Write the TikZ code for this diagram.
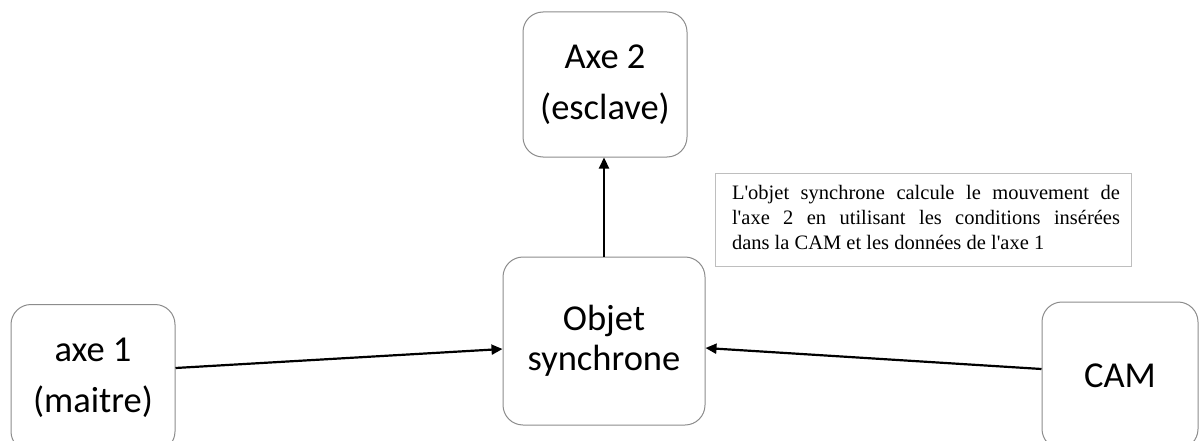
\documentclass[tikz,border=0pt]{standalone}
\usepackage{fontspec}
\setmainfont{Liberation Serif}
\newfontfamily\notefont{Liberation Serif}[Ligatures=TeXOff]
\newfontfamily\labelfont{Carlito}
\usetikzlibrary{arrows.meta,calc}

\definecolor{boxline}{RGB}{140,140,140}
\definecolor{noteline}{RGB}{190,190,190}

\tikzset{
  block/.style={draw=boxline, line width=1pt, rounded corners=20pt, fill=white,
    align=center, inner sep=0pt,
    font=\labelfont\fontsize{36.5}{51}\selectfont},
  note/.style={draw=noteline, line width=1pt, fill=white, inner sep=0pt,
    minimum width=416pt, minimum height=93pt},
  flow/.style={line width=2.2pt, -{Triangle[length=11pt,width=10pt]}}
}

\begin{document}
\begin{tikzpicture}[x=1pt,y=-1pt]
  \useasboundingbox (0,0) rectangle (1204,441);

  % blocks
  \node[block, minimum width=164pt, minimum height=147pt] (a1) at (93,378)
    {axe 1\\(maitre)};
  \node[block, minimum width=202pt, minimum height=168pt,
        font=\labelfont\fontsize{36.5}{40}\selectfont] (obj) at (604,341)
    {Objet\\synchrone};
  \node[block, minimum width=164pt, minimum height=145pt] (a2) at (605,84.5)
    {Axe 2\\(esclave)};
  \node[block, minimum width=156pt, minimum height=147pt] (cam) at (1120,375.5)
    {CAM};

  % explanatory note
  \node[note] (nb) at (923,219.5) {};
  \node[text width=388pt, align=justify, inner sep=0pt,
        font=\notefont\fontsize{20.5}{25}\selectfont] (nt) at ([xshift=3pt,yshift=2pt]nb.center)
    {\hyphenpenalty=10000 L'objet synchrone calcule le mouvement de\linebreak
     l'axe 2 en utilisant les conditions insérées\linebreak
     dans la CAM et les données de l'axe 1};

  % connectors
  \draw[flow] ([yshift=10pt]a1.east) -- ([yshift=-8pt]obj.west);
  \draw[flow] ([yshift=6.5pt]cam.west) -- ([yshift=-7pt]obj.east);
  \draw[flow] (obj.north) -- (obj.north |- a2.south);
\end{tikzpicture}
\end{document}
